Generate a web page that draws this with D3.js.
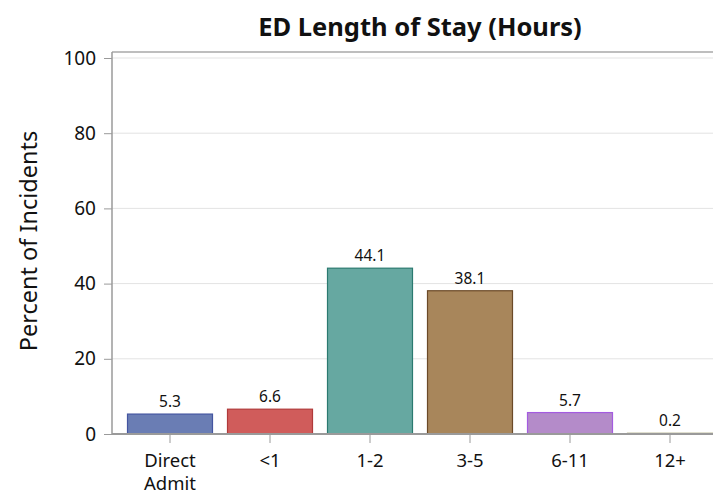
<!DOCTYPE html>
<html><head><meta charset="utf-8">
<script src="https://cdn.jsdelivr.net/npm/d3@7"></script>
<style>body{margin:0;background:#fff;} svg{display:block;font-family:"Noto Sans",sans-serif;}</style>
</head><body>
<script>
const categories = ["Direct Admit", "<1", "1-2", "3-5", "6-11", "12+"];
const values = [5.3, 6.6, 44.1, 38.1, 5.7, 0.2];
const fills = ["#6a7db4", "#d05c5b", "#66a8a1", "#a8865b", "#b48bc9", "#d8d6a8"];
const strokes = ["#4455a0", "#b03a3a", "#2b7a70", "#6b4a28", "#a45be0", "#a8a67a"];
const yTicks = [0, 20, 40, 60, 80, 100];
const title = "ED Length of Stay (Hours)";
const yLabel = "Percent of Incidents";

const W = 713, H = 497;
const svg = d3.select("body").append("svg").attr("width", W).attr("height", H);

const x = d3.scaleBand().domain(categories).range([120, 720]).paddingInner(0.14).paddingOuter(0.07);
const y = d3.scaleLinear().domain([0, 100]).range([434, 58]);
const axisLeft = 112, frameTop = 52;

// gridlines
svg.append("g").selectAll("line").data(yTicks.filter(d => d > 0)).join("line")
  .attr("x1", axisLeft).attr("x2", W).attr("y1", d => y(d)).attr("y2", d => y(d))
  .attr("stroke", "#e3e3e3").attr("stroke-width", 1);

// top frame line
svg.append("line").attr("x1", axisLeft).attr("x2", W).attr("y1", frameTop).attr("y2", frameTop)
  .attr("stroke", "#a8a8a8").attr("stroke-width", 1.5);

// bars
svg.append("g").selectAll("rect").data(values).join("rect")
  .attr("x", (d, i) => x(categories[i]) + 0.5)
  .attr("y", d => y(d))
  .attr("width", x.bandwidth() - 1)
  .attr("height", d => y(0) - y(d))
  .attr("fill", (d, i) => fills[i])
  .attr("stroke", (d, i) => strokes[i])
  .attr("stroke-width", 1.2);

// value labels
svg.append("g").selectAll("text").data(values).join("text")
  .attr("x", (d, i) => x(categories[i]) + x.bandwidth() / 2)
  .attr("y", d => y(d) - 7)
  .attr("text-anchor", "middle").attr("font-size", 15.5).attr("fill", "#111")
  .text(d => d.toFixed(1));

// y axis
const gy = svg.append("g").attr("transform", `translate(${axisLeft},0)`)
  .call(d3.axisLeft(y).tickValues(yTicks).tickSize(8).tickPadding(8));
gy.select(".domain").remove();
gy.append("line").attr("x1", 0).attr("x2", 0).attr("y1", frameTop).attr("y2", y(0)).attr("stroke", "#9a9a9a").attr("stroke-width", 1.5);
gy.selectAll(".tick line").attr("stroke", "#9a9a9a");
gy.selectAll(".tick text").attr("font-size", 19).attr("fill", "#111").attr("font-family", "\"Noto Sans\",sans-serif");

// x axis
const gx = svg.append("g").attr("transform", `translate(0,${y(0)})`)
  .call(d3.axisBottom(x).tickSize(9).tickPadding(11));
gx.select(".domain").remove();
gx.append("line").attr("x1", axisLeft).attr("x2", W).attr("y1", 0).attr("y2", 0).attr("stroke", "#9a9a9a").attr("stroke-width", 2);
gx.selectAll(".tick line").attr("stroke", "#9a9a9a");
gx.selectAll(".tick text").attr("font-size", 18.5).attr("fill", "#111").attr("font-family", "\"Noto Sans\",sans-serif")
  .each(function(d) {
    const t = d3.select(this);
    const words = d.split(" ");
    if (words.length > 1) {
      t.text(null);
      words.forEach((w, i) => t.append("tspan").attr("x", 0).attr("dy", i === 0 ? "0.71em" : "23").text(w));
      t.attr("dy", null);
    }
  });

// y label
svg.append("text").attr("transform", `translate(37,241) rotate(-90)`)
  .attr("text-anchor", "middle").attr("font-size", 23.5).attr("fill", "#111").text(yLabel);

// title
svg.append("text").attr("x", 420).attr("y", 36).attr("text-anchor", "middle")
  .attr("font-size", 25.5).attr("font-weight", "bold").attr("fill", "#111").text(title);
</script>
</body></html>
